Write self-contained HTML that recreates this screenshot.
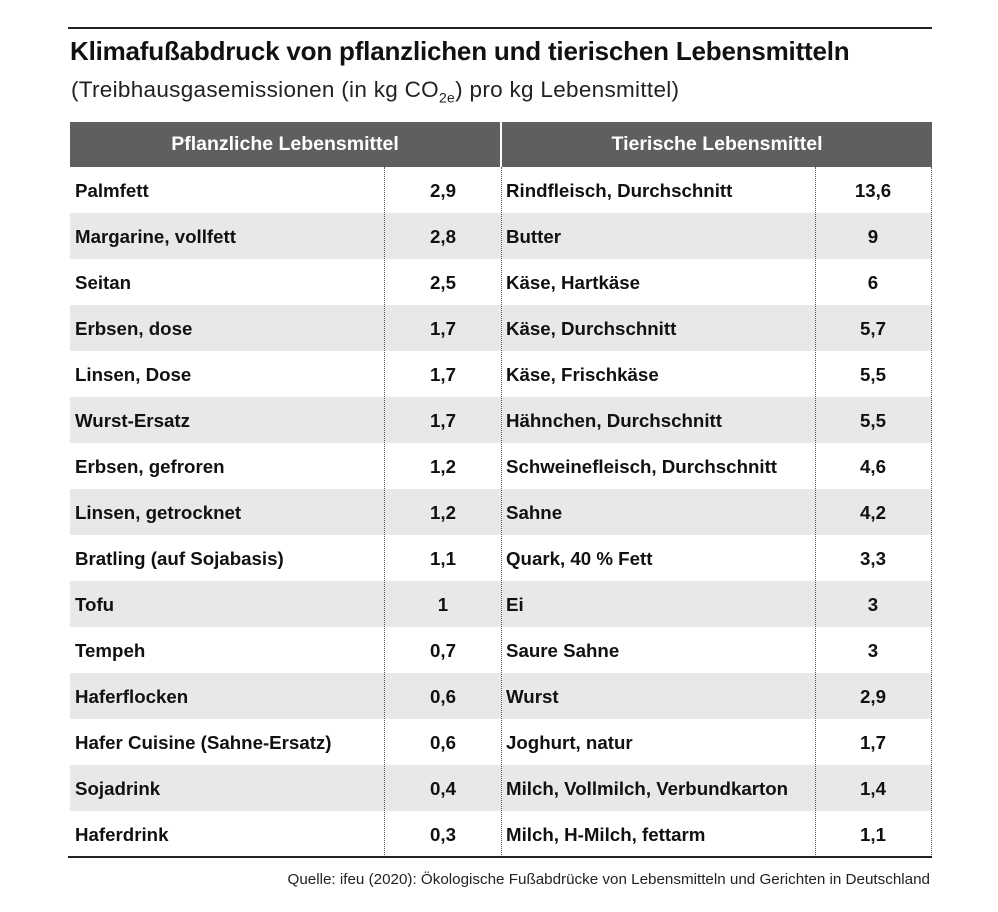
<!DOCTYPE html>
<html><head><meta charset="utf-8"><style>
body{margin:0;width:998px;height:912px;background:#fff;font-family:"Liberation Sans",Arial,sans-serif;position:relative;overflow:hidden;color:#111}
.topline{position:absolute;left:68px;top:27px;width:864px;height:2px;background:#222}
.title{position:absolute;left:70px;top:36px;font-size:26px;font-weight:bold;white-space:nowrap;letter-spacing:-0.2px}
.sub{position:absolute;left:71px;top:77px;font-size:22.5px;color:#222;white-space:nowrap;letter-spacing:0.3px}
.sub sub{font-size:14px}
.hdr{position:absolute;top:122px;height:45px;background:#5f5f5f;color:#fff;font-weight:bold;font-size:19.5px;line-height:45px;text-align:center}
.row{position:absolute;height:46px;font-size:18.7px;font-weight:bold;line-height:48px}
.g{background:#e8e8e8}
.n{position:absolute;white-space:nowrap}
.v{position:absolute;text-align:center;width:60px}
.vl{position:absolute;top:167px;height:690px;border-left:1px dotted #555}
.bot{position:absolute;left:68px;top:856px;width:864px;height:2px;background:#222}
.src{position:absolute;right:68px;top:871px;font-size:15.2px;color:#222;white-space:nowrap}
</style></head><body>
<div class="topline"></div>
<div class="title">Klimafußabdruck von pflanzlichen und tierischen Lebensmitteln</div>
<div class="sub">(Treibhausgasemissionen (in kg CO<sub>2e</sub>) pro kg Lebensmittel)</div>
<div class="hdr" style="left:70px;width:430px">Pflanzliche Lebensmittel</div>
<div class="hdr" style="left:502px;width:430px">Tierische Lebensmittel</div>
<div id="rows"></div>
<div class="vl" style="left:384px"></div>
<div class="vl" style="left:501px"></div>
<div class="vl" style="left:815px"></div>
<div class="vl" style="left:931px"></div>
<div class="bot"></div>
<div class="src">Quelle: ifeu (2020): Ökologische Fußabdrücke von Lebensmitteln und Gerichten in Deutschland</div>
<script>
var d=[["Palmfett","2,9","Rindfleisch, Durchschnitt","13,6"],["Margarine, vollfett","2,8","Butter","9"],["Seitan","2,5","Käse, Hartkäse","6"],["Erbsen, dose","1,7","Käse, Durchschnitt","5,7"],["Linsen, Dose","1,7","Käse, Frischkäse","5,5"],["Wurst-Ersatz","1,7","Hähnchen, Durchschnitt","5,5"],["Erbsen, gefroren","1,2","Schweinefleisch, Durchschnitt","4,6"],["Linsen, getrocknet","1,2","Sahne","4,2"],["Bratling (auf Sojabasis)","1,1","Quark, 40 % Fett","3,3"],["Tofu","1","Ei","3"],["Tempeh","0,7","Saure Sahne","3"],["Haferflocken","0,6","Wurst","2,9"],["Hafer Cuisine (Sahne-Ersatz)","0,6","Joghurt, natur","1,7"],["Sojadrink","0,4","Milch, Vollmilch, Verbundkarton","1,4"],["Haferdrink","0,3","Milch, H-Milch, fettarm","1,1"]];
var h="";
d.forEach(function(r,i){var t=167+i*46;var c=i%2?"row g":"row";
h+='<div class="'+c+'" style="left:70px;width:862px;top:'+t+'px"><span class="n" style="left:5px">'+r[0]+'</span><span class="v" style="left:343px">'+r[1]+'</span><span class="n" style="left:436px">'+r[2]+'</span><span class="v" style="left:773px">'+r[3]+'</span></div>';});
document.getElementById("rows").innerHTML=h;
</script>
</body></html>
